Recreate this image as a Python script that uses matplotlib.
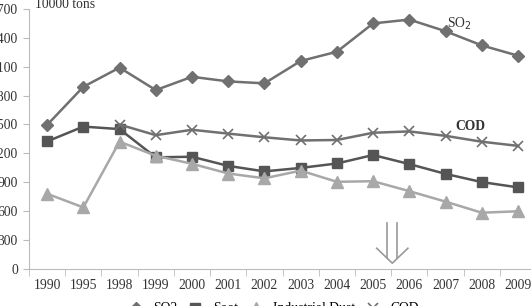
import matplotlib.pyplot as plt

plt.rcParams['font.family'] = 'Liberation Serif'

years = ['1990', '1995', '1998', '1999', '2000', '2001', '2002', '2003',
         '2004', '2005', '2006', '2007', '2008', '2009']
so2 = [1495, 1891, 2090, 1857, 1995, 1947, 1927, 2159, 2255, 2549, 2589, 2468, 2321, 2214]
soot = [1324, 1478, 1452, 1159, 1165, 1070, 1013, 1049, 1095, 1183, 1089, 987, 902, 847]
dust = [781, 639, 1322, 1175, 1092, 991, 941, 1021, 905, 911, 808, 699, 584, 599]
cod_years = years[2:]
cod = [1499, 1389, 1445, 1405, 1367, 1334, 1339, 1414, 1428, 1382, 1321, 1278]

x = list(range(len(years)))
xc = x[2:]

fig = plt.figure(figsize=(5.31, 3.06), dpi=100)
ax = fig.add_axes([0.0546, 0.121, 0.955, 0.85])

ax.plot(x, so2, color='#707070', lw=1.8, marker='D', ms=6, label='SO2')
ax.plot(x, soot, color='#555555', lw=1.8, marker='s', ms=7.5, label='Soot')
ax.plot(x, dust, color='#a8a8a8', lw=1.8, marker='^', ms=8, label='Industrial Dust')
ax.plot(xc, cod, color='#707070', lw=1.8, marker='x', ms=7, mew=1.2, label='COD')

ax.set_xlim(-0.5, len(years) - 0.5)
ax.set_ylim(0, 2700)
ax.set_yticks(range(0, 2701, 300))
ax.set_xticks(x)
ax.set_xticklabels(years)
ax.set_xticks([i - 0.5 for i in range(len(years) + 1)], minor=True)
ax.tick_params(axis='x', which='major', length=0, pad=7, labelsize=9.8, labelcolor='#333333')
ax.tick_params(axis='x', which='minor', length=5, color='#bbbbbb', direction='out')
ax.tick_params(axis='y', length=4, color='#bbbbbb', labelsize=9.8, labelcolor='#333333', pad=4)

for s in ['top', 'right']:
    ax.spines[s].set_visible(False)
for s in ['left', 'bottom']:
    ax.spines[s].set_color('#bbbbbb')

fig.text(0.066, 1.008, '10000 tons', fontsize=9.8, color='#333333', va='top')
ax.text(11.05, 2545, 'SO$_2$', fontsize=9.8, color='#333333', va='center')
ax.text(11.27, 1480, 'COD', fontsize=9.8, color='#333333', fontweight='bold', va='center')

# hollow down arrow between 2005 and 2006
ac = '#999999'
ax.plot([9.39, 9.39], [476, 115], color=ac, lw=1.2, clip_on=False)
ax.plot([9.66, 9.66], [476, 115], color=ac, lw=1.2, clip_on=False)
ax.plot([9.1, 9.53, 9.96], [215, 60, 215], color=ac, lw=1.2, clip_on=False)

fig.legend(loc='upper center', bbox_to_anchor=(0.51, 0.012), ncol=4, frameon=False,
           fontsize=9.8, handlelength=2.0, columnspacing=0.3, handletextpad=0.3,
           borderaxespad=0, borderpad=0)

fig.savefig('out.png', dpi=100)
